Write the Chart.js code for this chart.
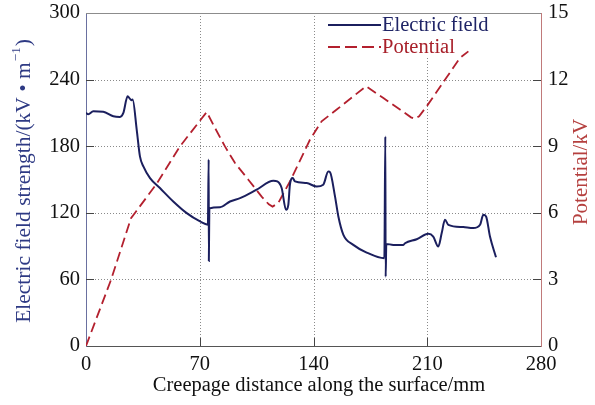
<!DOCTYPE html>
<html>
<head>
<meta charset="utf-8">
<script src="https://cdn.jsdelivr.net/npm/chart.js@4.4.1/dist/chart.umd.min.js"></script>
<style>
  html, body { margin: 0; padding: 0; background: #fff; }
</style>
</head>
<body>
<canvas id="chart" width="595" height="405"></canvas>
<script>
// Electric field along the surface (kV/m), left axis
const fieldX = [0, 1.4, 4.5, 10.6, 16.8, 20.9, 23, 25.6, 27.1, 28.1, 28.7, 31.2, 33.2, 35.3, 39.4, 45.5, 53.7, 62, 70.2,
  75.0, 75.5, 75.6, 75.9, 82.5, 88.6, 94.8, 105, 115.3, 117.7, 120.4, 123.1, 124.5, 125.5, 127.2, 128.6, 135.8, 142, 146,
  149.1, 150.2, 153.2, 155.3, 158.4, 164.5, 172.7, 183.6, 184.2, 184.4, 184.8, 189.1, 195.3, 196.3, 203.5, 210.7, 213.7,
  216.8, 218.9, 220.9, 223, 232.2, 238.3, 242.5, 244.5, 246.2, 248.6, 252.3];
const fieldY = [210, 208.7, 211.4, 211, 207, 206.4, 210, 225, 222.6, 221.3, 222, 195, 170.8, 161.8, 151.3, 142.3, 130.2, 119.7, 112.2,
  109.3, 168, 76.5, 124, 125.1, 130.2, 133.2, 140.8, 148.9, 148.3, 142.3, 122.7, 127.2, 145.3, 151.3, 148.3, 146.8, 143.7, 145.3,
  157.3, 156.5, 135, 116.7, 100.2, 91.1, 84.2, 79.1, 188.8, 62.5, 92, 91.1, 91.1, 92.6, 96.2, 101.1, 98.6,
  89.6, 101.7, 113.7, 109.2, 107.1, 106.2, 109.2, 118.2, 116.7, 98.6, 80];

// Potential along the surface (kV), right axis
const potX = [0, 15.4, 27.7, 30.8, 43.4, 57.8, 74.3, 79.4, 85.5, 91.7, 99.9, 108.1, 112.5, 114.8, 118.3, 125.5, 137.8, 145,
  154.3, 172.3, 183, 193.2, 200, 202.5, 205, 209.6, 221, 230.2, 235.3];
const potY = [0, 2.98, 5.76, 6.06, 7.3, 8.99, 10.54, 9.82, 8.99, 8.24, 7.49, 6.73, 6.38, 6.28, 6.44, 7.41, 9.29, 10.12,
  10.65, 11.7, 11.17, 10.65, 10.3, 10.23, 10.35, 10.79, 12.0, 12.98, 13.27];

const xTicks = [0, 70, 140, 210, 280];
const fieldTicks = [0, 60, 120, 180, 240, 300];
const potTicks = [0, 3, 6, 9, 12, 15];

const NAVY = '#1b1f5e';
const RED = '#b3202e';
const FONT = 'Liberation Serif, Times New Roman, serif';
const FS = 20.5;

const fieldData = fieldX.map((x, i) => ({ x: x, y: fieldY[i] }));
const potData = potX.map((x, i) => ({ x: x, y: potY[i] }));

// keep the plot box fixed: no label overhang padding
const noOverhang = s => { s.paddingTop = 0; s.paddingBottom = 0; };

// dotted grid under the curves, blanked behind the legend
const grid = {
  id: 'dotgrid',
  beforeDatasetsDraw(chart) {
    const { ctx, chartArea: a, scales } = chart;
    ctx.save();
    ctx.strokeStyle = '#8a8a8a';
    ctx.lineWidth = 1;
    ctx.setLineDash([1, 2]);
    ctx.beginPath();
    xTicks.slice(1, -1).forEach(v => {
      const px = Math.round(scales.x.getPixelForValue(v)) + 0.5;
      ctx.moveTo(px, a.top);
      ctx.lineTo(px, a.bottom);
    });
    fieldTicks.slice(1, -1).forEach(v => {
      const py = Math.round(scales.y.getPixelForValue(v)) + 0.5;
      ctx.moveTo(a.left, py);
      ctx.lineTo(a.right, py);
    });
    ctx.stroke();
    ctx.fillStyle = '#fff';
    ctx.fillRect(324, a.top + 2, 168, 42);
    ctx.restore();
  }
};

// frame, inward tick marks, titles and legend
const decor = {
  id: 'decor',
  afterDraw(chart) {
    const { ctx, chartArea: a, scales } = chart;
    ctx.save();
    ctx.lineWidth = 1;

    ctx.strokeStyle = '#8c8c8c';
    ctx.beginPath();
    ctx.moveTo(a.left, Math.round(a.top) + 0.5);
    ctx.lineTo(a.right, Math.round(a.top) + 0.5);
    ctx.stroke();

    const tl = 8;
    ctx.strokeStyle = '#444';
    ctx.beginPath();
    xTicks.slice(1, -1).forEach(v => {
      const px = Math.round(scales.x.getPixelForValue(v)) + 0.5;
      ctx.moveTo(px, a.bottom);
      ctx.lineTo(px, a.bottom - tl);
    });
    fieldTicks.slice(1, -1).forEach(v => {
      const py = Math.round(scales.y.getPixelForValue(v)) + 0.5;
      ctx.moveTo(a.left, py);
      ctx.lineTo(a.left + tl, py);
    });
    potTicks.slice(1, -1).forEach(v => {
      const py = Math.round(scales.y1.getPixelForValue(v)) + 0.5;
      ctx.moveTo(a.right, py);
      ctx.lineTo(a.right - tl, py);
    });
    ctx.stroke();

    // x title
    ctx.fillStyle = '#111';
    ctx.font = FS + 'px ' + FONT;
    ctx.textAlign = 'center';
    ctx.textBaseline = 'middle';
    ctx.fillText('Creepage distance along the surface/mm', 319, 386);

    // left title with superscript
    ctx.save();
    ctx.translate(24, 182);
    ctx.rotate(-Math.PI / 2);
    ctx.fillStyle = '#2e3a84';
    ctx.textBaseline = 'middle';
    ctx.textAlign = 'left';
    const main = 'Electric field strength/(kV \u2022 m';
    const sup = '\u22121';
    const big = '21.5px ' + FONT, small = '13px ' + FONT;
    ctx.font = big;
    const w1 = ctx.measureText(main).width, w3 = ctx.measureText(')').width;
    ctx.font = small;
    const w2 = ctx.measureText(sup).width;
    const sx = -(w1 + w2 + w3) / 2;
    ctx.font = big;
    ctx.fillText(main, sx, 0);
    ctx.font = small;
    ctx.fillText(sup, sx + w1 + 1, -7);
    ctx.font = big;
    ctx.fillText(')', sx + w1 + w2 + 2, 0);
    ctx.restore();

    // right title
    ctx.save();
    ctx.translate(581, 172);
    ctx.rotate(-Math.PI / 2);
    ctx.fillStyle = '#b5403f';
    ctx.font = '21px ' + FONT;
    ctx.textAlign = 'center';
    ctx.textBaseline = 'middle';
    ctx.fillText('Potential/kV', 0, 0);
    ctx.restore();

    // legend
    const items = [
      { label: 'Electric field', color: NAVY, dash: [], y: 25, text: '#1f2466', width: 2 },
      { label: 'Potential', color: RED, dash: [12, 5], y: 47, text: '#a8202a', width: 1.8 }
    ];
    items.forEach(it => {
      ctx.strokeStyle = it.color;
      ctx.lineWidth = it.width;
      ctx.setLineDash(it.dash);
      ctx.beginPath();
      ctx.moveTo(328, it.y);
      ctx.lineTo(381, it.y);
      ctx.stroke();
      ctx.setLineDash([]);
      ctx.fillStyle = it.text;
      ctx.font = FS + 'px ' + FONT;
      ctx.textAlign = 'left';
      ctx.textBaseline = 'middle';
      ctx.fillText(it.label, 382, it.y + 1);
    });
    ctx.restore();
  }
};

new Chart(document.getElementById('chart'), {
  type: 'line',
  data: {
    datasets: [
      {
        label: 'Electric field',
        data: fieldData,
        yAxisID: 'y',
        borderColor: NAVY,
        borderWidth: 2,
        pointRadius: 0,
        cubicInterpolationMode: 'monotone',
        fill: false
      },
      {
        label: 'Potential',
        data: potData,
        yAxisID: 'y1',
        borderColor: RED,
        borderWidth: 1.8,
        borderDash: [10, 5],
        pointRadius: 0,
        tension: 0,
        fill: false
      }
    ]
  },
  options: {
    responsive: false,
    animation: false,
    layout: { padding: { top: 13 } },
    plugins: {
      legend: { display: false },
      tooltip: { enabled: false }
    },
    scales: {
      x: {
        type: 'linear',
        min: 0,
        max: 280,
        afterFit: s => { s.height = 59; },
        afterBuildTicks: s => { s.ticks = xTicks.map(v => ({ value: v })); },
        grid: { display: false, drawTicks: false },
        border: { color: '#555' },
        ticks: { color: '#111', padding: 6, font: { family: FONT, size: FS } }
      },
      y: {
        position: 'left',
        min: 0,
        max: 300,
        afterFit: s => { s.width = 86; noOverhang(s); },
        afterBuildTicks: s => { s.ticks = fieldTicks.map(v => ({ value: v })); },
        grid: { display: false, drawTicks: false },
        border: { color: '#6a70a0' },
        ticks: { color: '#111', padding: 6, font: { family: FONT, size: FS } }
      },
      y1: {
        position: 'right',
        min: 0,
        max: 15,
        afterFit: s => { s.width = 54; noOverhang(s); },
        afterBuildTicks: s => { s.ticks = potTicks.map(v => ({ value: v })); },
        grid: { display: false, drawTicks: false },
        border: { color: '#c07a7a' },
        ticks: { color: '#111', padding: 7, font: { family: FONT, size: FS } }
      }
    }
  },
  plugins: [grid, decor]
});
</script>
</body>
</html>
